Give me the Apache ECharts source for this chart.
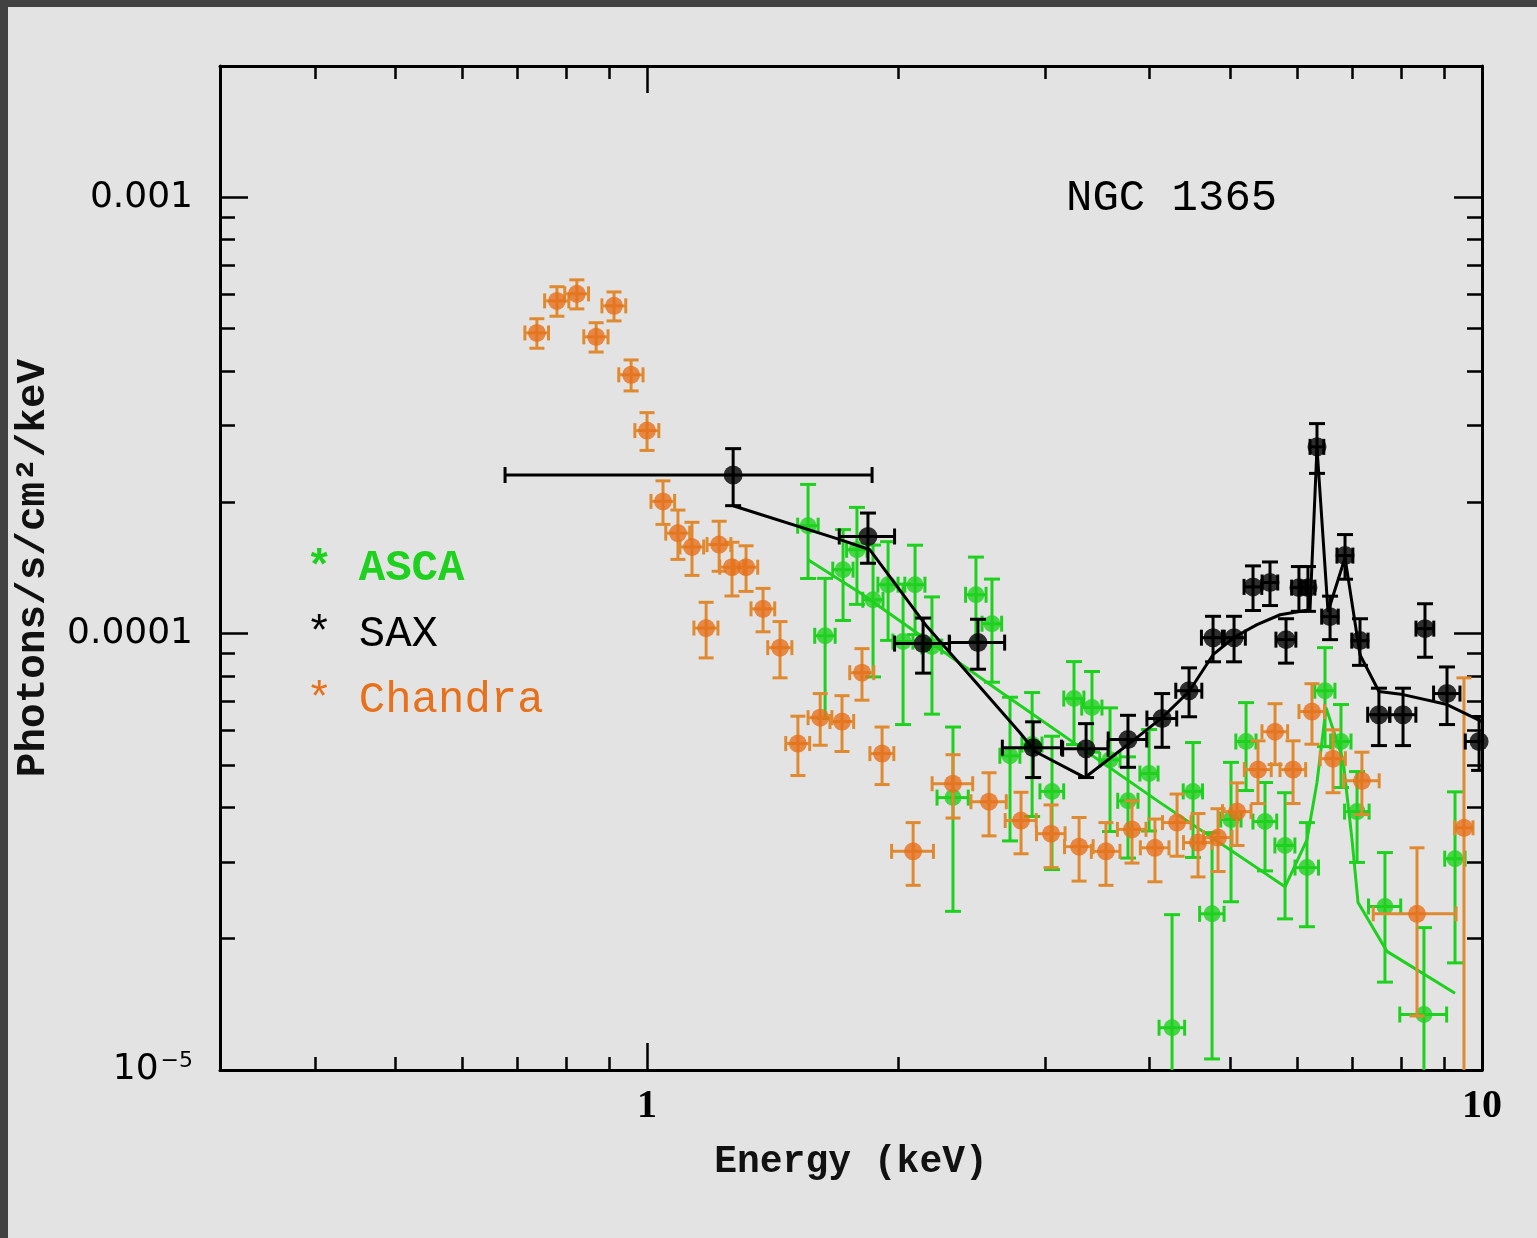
<!DOCTYPE html>
<html>
<head>
<meta charset="utf-8">
<script src="https://cdn.jsdelivr.net/npm/echarts@6/dist/echarts.min.js"></script>
<style>
  html, body { margin: 0; padding: 0; background: #e3e3e3; }
  #chart { width: 1537px; height: 1238px; }
</style>
</head>
<body>
<div id="chart"></div>
<script>
// ---- NGC 1365 unfolded X-ray spectra (energy in keV, flux in photons/s/cm^2/keV) ----

// Chandra
const chandraE  = [0.738,0.780,0.824,0.869,0.913,0.957,1.000,1.045,1.089,1.132,1.177,1.220,1.264,1.314,1.377,1.443,1.516,1.612,1.712,1.809,1.912,2.083,2.325,2.568,2.805,3.047,3.292,3.545,3.809,4.058,4.313,4.570,4.829,5.089,5.392,5.651,5.939,6.257,6.631,7.181,8.359,9.515];
const chandraF  = [4.89e-4,5.79e-4,6.01e-4,4.79e-4,5.64e-4,3.92e-4,2.92e-4,2.01e-4,1.70e-4,1.58e-4,1.03e-4,1.60e-4,1.42e-4,1.42e-4,1.14e-4,9.29e-5,5.60e-5,6.42e-5,6.29e-5,8.14e-5,5.31e-5,3.17e-5,4.53e-5,4.12e-5,3.73e-5,3.48e-5,3.25e-5,3.17e-5,3.56e-5,3.23e-5,3.69e-5,3.32e-5,3.41e-5,3.91e-5,4.88e-5,5.96e-5,4.88e-5,6.63e-5,5.17e-5,4.60e-5,2.28e-5,3.59e-5];
const chandraDE = [0.024,0.026,0.027,0.029,0.030,0.032,0.033,0.034,0.036,0.037,0.039,0.040,0.042,0.043,0.045,0.048,0.050,0.053,0.056,0.060,0.063,0.12,0.13,0.125,0.12,0.12,0.13,0.14,0.15,0.16,0.17,0.18,0.19,0.2,0.2,0.2,0.21,0.22,0.23,0.35,0.95,0.24];
const chandraDF = [0.38e-4,0.45e-4,0.46e-4,0.37e-4,0.43e-4,0.32e-4,0.29e-4,0.23e-4,0.22e-4,0.22e-4,0.15e-4,0.21e-4,0.20e-4,0.17e-4,0.13e-4,1.37e-5,0.87e-5,0.87e-5,0.92e-5,1.1e-5,0.8e-5,0.52e-5,0.75e-5,0.68e-5,0.6e-5,0.57e-5,0.54e-5,0.52e-5,0.58e-5,0.53e-5,0.6e-5,0.55e-5,0.56e-5,0.64e-5,0.8e-5,0.95e-5,0.8e-5,1.05e-5,0.85e-5,0.75e-5,0.95e-5,4.33e-5];

// BeppoSAX
const saxE  = [1.268,1.839,2.141,2.491,2.900,3.356,3.767,4.139,4.458,4.763,5.047,5.318,5.573,5.825,6.036,6.188,6.344,6.577,6.854,7.143,7.526,8.043,8.545,9.080,9.92];
const saxF  = [2.31e-4,1.67e-4,9.49e-5,9.54e-5,5.48e-5,5.45e-5,5.72e-5,6.39e-5,7.40e-5,9.79e-5,9.79e-5,1.28e-4,1.31e-4,9.69e-5,1.275e-4,1.275e-4,2.68e-4,1.094e-4,1.51e-4,9.64e-5,6.52e-5,6.52e-5,1.027e-4,7.29e-5,5.66e-5];
const saxDE = [0.592,0.14,0.162,0.19,0.236,0.21,0.2,0.17,0.16,0.15,0.16,0.13,0.12,0.16,0.12,0.12,0.12,0.15,0.15,0.16,0.23,0.29,0.21,0.33,0.37];
const saxDF = [0.345e-4,0.22e-4,1.37e-5,1.25e-5,0.8e-5,0.77e-5,0.78e-5,0.9e-5,0.95e-5,1.17e-5,1.17e-5,1.5e-5,1.5e-5,1.13e-5,1.5e-5,1.5e-5,3.5e-5,1.25e-5,1.77e-5,1.18e-5,0.98e-5,0.98e-5,1.44e-5,1.1e-5,0.8e-5];
const saxModelE = [1.268,1.703,1.849,2.164,2.797,2.916,3.346,3.767,4.139,4.458,4.763,5.060,5.377,5.731,6.223,6.344,6.540,6.854,7.143,7.526,8.043,9.080,10.0];
const saxModelF = [1.964e-4,1.643e-4,1.557e-4,1.038e-4,5.93e-5,5.37e-5,4.68e-5,5.57e-5,6.42e-5,7.37e-5,8.95e-5,9.84e-5,1.049e-4,1.105e-4,1.135e-4,2.668e-4,1.123e-4,1.493e-4,8.95e-5,7.37e-5,7.25e-5,6.88e-5,6.29e-5];

// ASCA
const ascaE  = [1.559,1.634,1.717,1.784,1.865,1.944,2.026,2.094,2.194,2.325,2.477,2.589,2.721,2.892,3.055,3.246,3.411,3.585,3.767,3.993,4.254,4.507,4.750,5.005,5.217,5.497,5.809,6.171,6.486,6.778,7.085,7.652,8.521,9.283];
const ascaF  = [1.768e-4,9.89e-5,1.402e-4,1.557e-4,1.196e-4,1.295e-4,9.59e-5,1.295e-4,9.34e-5,4.21e-5,1.228e-4,1.054e-4,5.25e-5,5.57e-5,4.35e-5,7.10e-5,6.77e-5,5.14e-5,4.14e-5,4.78e-5,1.25e-5,4.35e-5,2.28e-5,3.75e-5,5.66e-5,3.71e-5,3.27e-5,2.91e-5,7.40e-5,5.66e-5,3.91e-5,2.37e-5,1.34e-5,3.05e-5];
const ascaDE = [0.044,0.046,0.048,0.05,0.052,0.054,0.056,0.058,0.06,0.1,0.07,0.07,0.075,0.08,0.1,0.09,0.095,0.1,0.105,0.1,0.15,0.12,0.16,0.14,0.145,0.18,0.16,0.2,0.18,0.19,0.24,0.34,0.55,0.26];
const ascaDF = [0.43e-4,3.5e-5,0.33e-4,0.39e-4,0.40e-4,0.33e-4,0.34e-4,0.30e-4,0.28e-4,1.9e-5,0.27e-4,0.28e-4,1.9e-5,1.76e-5,1.47e-5,1.53e-5,1.42e-5,1.62e-5,1.08e-5,1.25e-5,1.02e-5,1.28e-5,1.22e-5,1.32e-5,1.29e-5,0.85e-5,1.05e-5,0.78e-5,1.89e-5,1.22e-5,0.92e-5,0.78e-5,0.78e-5,1.29e-5];
const ascaModelE = [1.559,1.799,2.647,4.116,5.809,6.171,6.344,6.505,6.816,6.988,7.105,7.695,9.283];
const ascaModelF = [1.477e-4,1.241e-4,7.37e-5,4.10e-5,2.63e-5,3.37e-5,4.56e-5,6.77e-5,5.14e-5,3.37e-5,2.42e-5,1.87e-5,1.50e-5];

// axes
const xRange = [0.308, 10];
const yRange = [1e-5, 0.002];
const xMajorTicks = [1, 10];
const xMinorTicks = [0.4,0.5,0.6,0.7,0.8,0.9,2,3,4,5,6,7,8,9];
const xTickLabels = ['1', '10'];
const yMajorTicks = [1e-5, 1e-4, 1e-3];
const yMinorTicks = [2e-5,3e-5,4e-5,5e-5,6e-5,7e-5,8e-5,9e-5,2e-4,3e-4,4e-4,5e-4,6e-4,7e-4,8e-4,9e-4];
const yTickLabels = ['{b|10}{s|\u22125}', '0.0001', '0.001'];

const legendItems = ['ASCA', 'SAX', 'Chandra'];
const titleText = 'NGC 1365';

const GREEN = '#1fd11f';
const ORANGE = '#e6701b';
const ORANGE_BAR = '#df8a30';
const BLACK = '#000000';
const MONO = '"Liberation Mono", "DejaVu Sans Mono", monospace';

const rows = (E, F, dE, dF) => E.map((e, i) => [e, F[i], dE[i], dF[i]]);
const pairs = (E, F) => E.map((e, i) => [e, F[i]]);

function lookupLabel(ticks, labels, v) {
  const i = ticks.findIndex(t => Math.abs(Math.log10(t) - Math.log10(v)) < 1e-6);
  return i >= 0 ? labels[i] : '';
}

// error bars: vertical +/- dF and horizontal +/- dE, each with end caps
function errorBars(color, cap) {
  return function (params, api) {
    const e = api.value(0), f = api.value(1), de = api.value(2), df = api.value(3);
    const hasLow = f - df > 0;
    const lowVal = hasLow ? f - df : 1e-8;
    const top = api.coord([e, f + df]);
    const bot = api.coord([e, lowVal]);
    const left = api.coord([e - de, f]);
    const right = api.coord([e + de, f]);
    const h = cap / 2;
    const style = { stroke: color, lineWidth: 3, fill: null };
    const seg = (x1, y1, x2, y2) => ({ type: 'line', shape: { x1, y1, x2, y2 }, style });
    const children = [
      seg(top[0], top[1], bot[0], bot[1]),
      seg(left[0], left[1], right[0], right[1]),
      seg(top[0] - h, top[1], top[0] + h, top[1]),
      seg(left[0], left[1] - h, left[0], left[1] + h),
      seg(right[0], right[1] - h, right[0], right[1] + h)
    ];
    if (hasLow) children.push(seg(bot[0] - h, bot[1], bot[0] + h, bot[1]));
    return { type: 'group', children };
  };
}

function axisBase(extra) {
  return Object.assign({
    type: 'log', logBase: 10,
    splitLine: { show: false },
    axisLine: { show: false, onZero: false },
    axisTick: { show: false },
    axisLabel: { show: false }
  }, extra);
}
const tickStyle = { color: BLACK, width: 2.5 };
const frameLine = { show: true, onZero: false, lineStyle: { color: BLACK, width: 3 } };

const xAxes = [
  axisBase({
    position: 'bottom', min: xRange[0], max: xRange[1],
    axisLine: frameLine,
    axisTick: { show: true, inside: true, length: 27, customValues: xMajorTicks, lineStyle: tickStyle },
    axisLabel: {
      show: true, customValues: xMajorTicks, margin: 17,
      formatter: v => lookupLabel(xMajorTicks, xTickLabels, v),
      fontFamily: '"Liberation Serif", serif', fontWeight: 'bold', fontSize: 40, color: BLACK
    },
    name: 'Energy (keV)', nameLocation: 'middle', nameGap: 73,
    nameTextStyle: { fontFamily: MONO, fontSize: 38, fontWeight: 'bold', color: '#111' }
  }),
  axisBase({
    position: 'bottom', min: xRange[0], max: xRange[1],
    axisTick: { show: true, inside: true, length: 13, customValues: xMinorTicks, lineStyle: tickStyle }
  }),
  axisBase({
    position: 'top', min: xRange[0], max: xRange[1],
    axisLine: frameLine,
    axisTick: { show: true, inside: true, length: 27, customValues: xMajorTicks, lineStyle: tickStyle }
  }),
  axisBase({
    position: 'top', min: xRange[0], max: xRange[1],
    axisTick: { show: true, inside: true, length: 13, customValues: xMinorTicks, lineStyle: tickStyle }
  })
];

const yAxes = [
  axisBase({
    position: 'left', min: yRange[0], max: yRange[1],
    axisLine: frameLine,
    axisTick: { show: true, inside: true, length: 28, customValues: yMajorTicks, lineStyle: tickStyle },
    axisLabel: {
      show: true, customValues: yMajorTicks, margin: 27,
      formatter: v => lookupLabel(yMajorTicks, yTickLabels, v),
      fontFamily: '"DejaVu Sans", sans-serif', fontSize: 36, color: BLACK,
      rich: {
        b: { fontFamily: '"DejaVu Sans", sans-serif', fontSize: 36, color: BLACK },
        s: { fontFamily: '"DejaVu Sans", sans-serif', fontSize: 22, color: BLACK, verticalAlign: 'top', padding: [0, 0, 18, 2] }
      }
    },
    name: 'Photons/s/cm\u00B2/keV', nameLocation: 'middle', nameGap: 166, nameRotate: 90,
    nameTextStyle: { fontFamily: MONO, fontSize: 41, fontWeight: 'bold', color: '#111' }
  }),
  axisBase({
    position: 'left', min: yRange[0], max: yRange[1],
    axisTick: { show: true, inside: true, length: 15, customValues: yMinorTicks, lineStyle: tickStyle }
  }),
  axisBase({
    position: 'right', min: yRange[0], max: yRange[1],
    axisLine: frameLine,
    axisTick: { show: true, inside: true, length: 28, customValues: yMajorTicks, lineStyle: tickStyle }
  }),
  axisBase({
    position: 'right', min: yRange[0], max: yRange[1],
    axisTick: { show: true, inside: true, length: 15, customValues: yMinorTicks, lineStyle: tickStyle }
  })
];

const chart = echarts.init(document.getElementById('chart'), null, { renderer: 'canvas' });

chart.setOption({
  animation: false,
  backgroundColor: '#e3e3e3',
  grid: { left: 220, top: 66, right: 55, bottom: 168, containLabel: false, outerBoundsMode: 'none' },
  xAxis: xAxes,
  yAxis: yAxes,
  graphic: [
    { type: 'rect', shape: { x: 0, y: 0, width: 1537, height: 7 }, style: { fill: '#424242' }, silent: true },
    { type: 'rect', shape: { x: 0, y: 0, width: 8, height: 1238 }, style: { fill: '#424242' }, silent: true },
    { type: 'text', x: 1066, y: 198, style: { text: titleText, font: '44px ' + MONO, fill: BLACK, verticalAlign: 'middle' } },
    { type: 'text', x: 306, y: 569, style: { text: '* ' + legendItems[0], font: 'bold 44px ' + MONO, fill: GREEN, verticalAlign: 'middle' } },
    { type: 'text', x: 306, y: 634, style: { text: '* ' + legendItems[1], font: '44px ' + MONO, fill: BLACK, verticalAlign: 'middle' } },
    { type: 'text', x: 306, y: 700, style: { text: '* ' + legendItems[2], font: '44px ' + MONO, fill: ORANGE, verticalAlign: 'middle' } }
  ],
  series: [
    {
      name: 'ASCA errors', type: 'custom', clip: true,
      renderItem: errorBars(GREEN, 16),
      encode: { x: 0, y: 1 },
      data: rows(ascaE, ascaF, ascaDE, ascaDF), z: 2
    },
    {
      name: 'ASCA model', type: 'line', showSymbol: false, clip: true,
      data: pairs(ascaModelE, ascaModelF),
      lineStyle: { color: GREEN, width: 3 }, z: 3
    },
    {
      name: 'ASCA', type: 'scatter', symbol: 'circle', symbolSize: 17,
      data: pairs(ascaE, ascaF), itemStyle: { color: GREEN }, z: 3
    },
    {
      name: 'Chandra errors', type: 'custom', clip: true,
      renderItem: errorBars(ORANGE_BAR, 15),
      encode: { x: 0, y: 1 },
      data: rows(chandraE, chandraF, chandraDE, chandraDF), z: 4
    },
    {
      name: 'Chandra', type: 'scatter', symbol: 'circle', symbolSize: 18,
      data: pairs(chandraE, chandraF), itemStyle: { color: ORANGE }, z: 4
    },
    {
      name: 'SAX errors', type: 'custom', clip: true,
      renderItem: errorBars(BLACK, 16),
      encode: { x: 0, y: 1 },
      data: rows(saxE, saxF, saxDE, saxDF), z: 5
    },
    {
      name: 'SAX model', type: 'line', showSymbol: false, clip: true,
      data: pairs(saxModelE, saxModelF),
      lineStyle: { color: BLACK, width: 3 }, z: 5
    },
    {
      name: 'SAX', type: 'scatter', symbol: 'circle', symbolSize: 19,
      data: pairs(saxE, saxF), itemStyle: { color: BLACK }, z: 5
    }
  ]
});
</script>
</body>
</html>
